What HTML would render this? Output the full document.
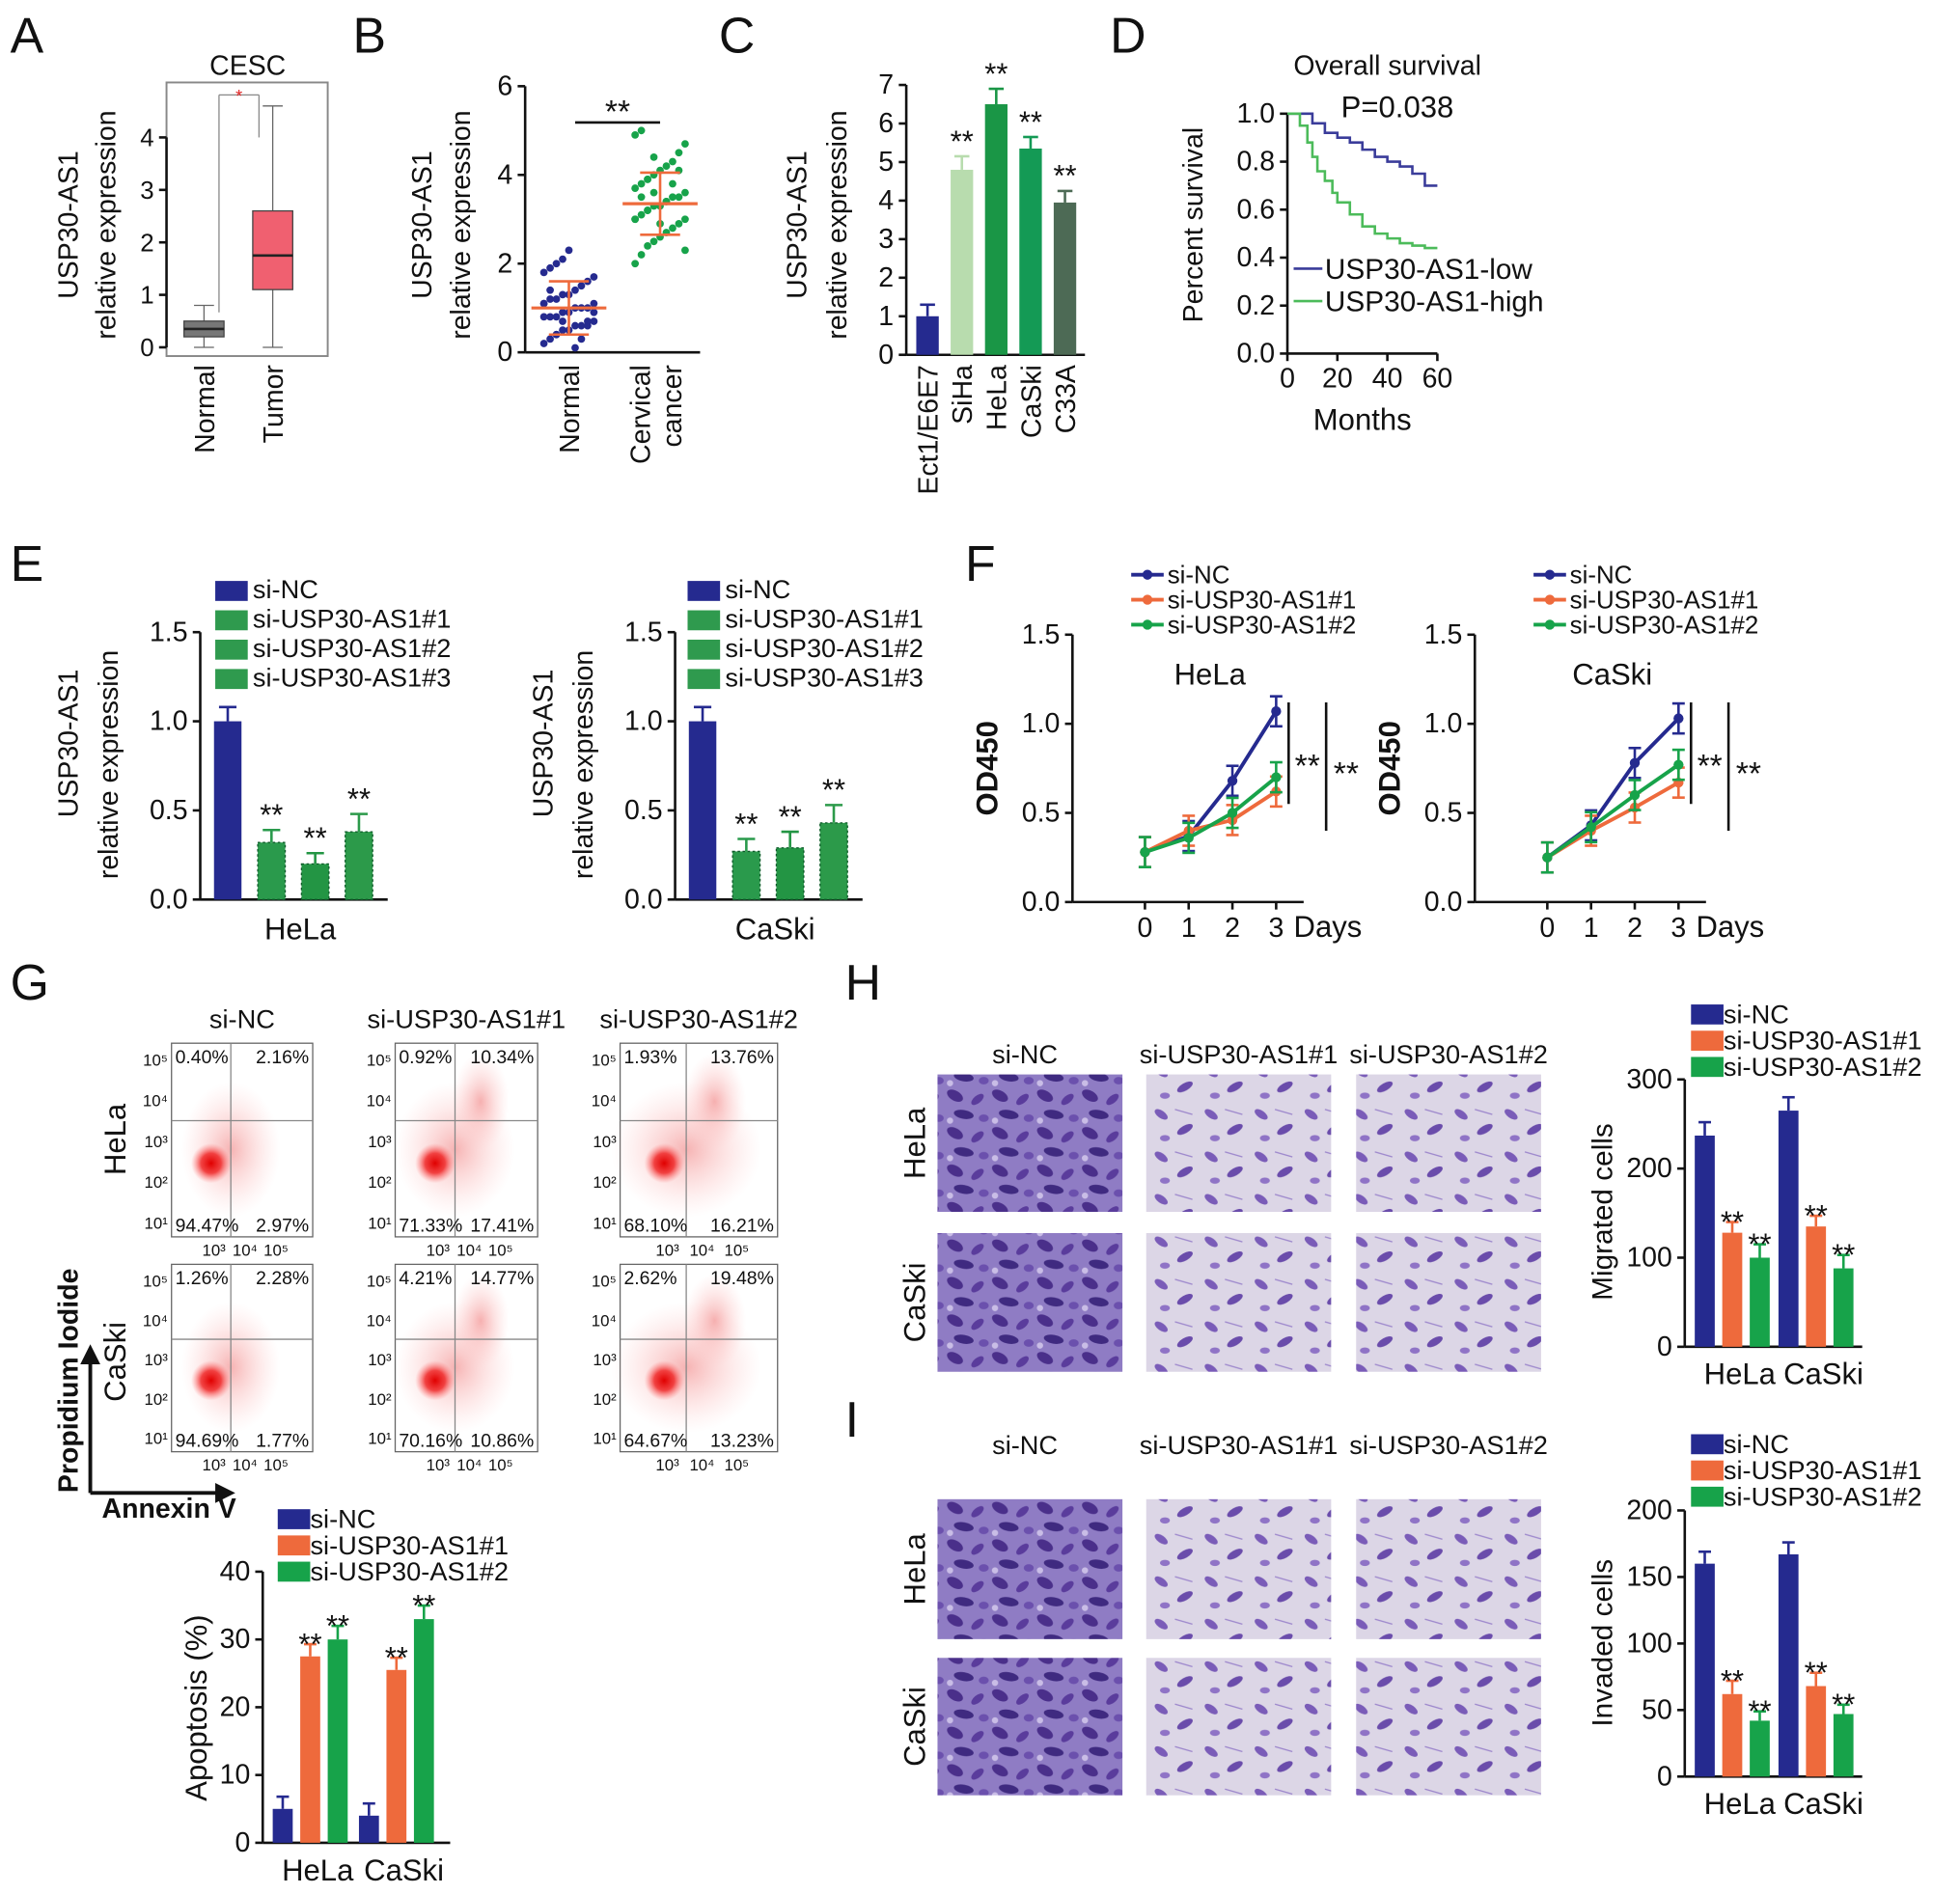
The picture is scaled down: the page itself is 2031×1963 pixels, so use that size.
<!DOCTYPE html>
<html><head><meta charset="utf-8"><style>
html,body{margin:0;padding:0;background:#fff}
svg{display:block;font-family:"Liberation Sans",Arial,sans-serif}
</style></head><body>
<svg id="fig" width="2031" height="1963" viewBox="0 0 1568 1516" xmlns="http://www.w3.org/2000/svg">
<defs>
<pattern id="cellsDense" width="36" height="30" patternUnits="userSpaceOnUse">
<rect width="36" height="30" fill="#8f7cc4"/>
<ellipse cx="8" cy="7" rx="7" ry="4" fill="#4a2f8a" transform="rotate(30 8 7)"/>
<ellipse cx="26" cy="10" rx="6" ry="3" fill="#5a3c9c" transform="rotate(-40 26 10)"/>
<ellipse cx="15" cy="22" rx="8" ry="3.5" fill="#3f2a80" transform="rotate(10 15 22)"/>
<ellipse cx="31" cy="25" rx="4" ry="3" fill="#6b50ad"/>
<circle cx="4" cy="27" r="2.5" fill="#c9bde6"/>
</pattern>
<pattern id="cellsSparse" width="40" height="34" patternUnits="userSpaceOnUse">
<rect width="40" height="34" fill="#dcd6e6"/>
<ellipse cx="9" cy="8" rx="6" ry="3" fill="#7a5cb8" transform="rotate(35 9 8)"/>
<ellipse cx="28" cy="20" rx="7" ry="3" fill="#6a4cab" transform="rotate(-30 28 20)"/>
<ellipse cx="12" cy="27" rx="4" ry="2.5" fill="#8f73c6"/>
<line x1="20" y1="4" x2="34" y2="8" stroke="#9c86cc" stroke-width="1"/>
</pattern>
<radialGradient id="blob"><stop offset="0" stop-color="#e00000"/><stop offset="0.5" stop-color="#f03030" stop-opacity="0.9"/><stop offset="1" stop-color="#ff8080" stop-opacity="0"/></radialGradient>
<radialGradient id="haze"><stop offset="0" stop-color="#f08080" stop-opacity="0.6"/><stop offset="1" stop-color="#ffc0c0" stop-opacity="0"/></radialGradient>
</defs>
</svg>
<script>
// ---------- DATA ----------
const tcgaCats=["Normal","Tumor"];
const tcgaQ1=[0.2,1.1], tcgaMed=[0.35,1.75], tcgaQ3=[0.5,2.6], tcgaMin=[0.0,0.0], tcgaMax=[0.8,4.6];
const tcgaTicks=[0,1,2,3,4];
const normalVals=[0.2,0.3,0.4,0.5,0.5,0.6,0.6,0.7,0.7,0.8,0.8,0.8,0.9,0.9,1.0,1.0,1.0,1.1,1.1,1.2,1.2,1.3,1.3,1.4,1.5,1.6,1.7,1.8,1.9,2.0,2.1,2.3,0.1,0.3,0.6,0.9,1.1,1.4,0.4,0.7];
const cancerVals=[2.0,2.2,2.4,2.5,2.6,2.7,2.8,2.9,3.0,3.0,3.1,3.2,3.3,3.3,3.4,3.5,3.5,3.6,3.7,3.8,3.9,4.0,4.1,4.2,4.3,4.5,4.7,4.9,5.0,3.2,3.6,2.9,3.4,3.8,4.1,2.3,3.0,3.5,3.9,4.4];
const bMean=[1.0,3.35], bSD=[0.6,0.7];
const bTicks=[0,2,4,6];
const cellLines=["Ect1/E6E7","SiHa","HeLa","CaSki","C33A"];
const cVals=[1.0,4.8,6.5,5.35,3.95], cErr=[0.3,0.35,0.4,0.3,0.3];
const cTicks=[0,1,2,3,4,5,6,7];
const survLowT=[0,10,15,20,25,30,35,40,45,50,55,60], survLowS=[1,0.96,0.92,0.9,0.88,0.85,0.82,0.8,0.78,0.75,0.7,0.7];
const survHighT=[0,5,8,10,12,15,18,20,25,30,35,40,45,50,55,60], survHighS=[1,0.95,0.88,0.82,0.76,0.72,0.67,0.63,0.58,0.53,0.5,0.48,0.46,0.45,0.44,0.44];
const dYTicks=[0,0.2,0.4,0.6,0.8,1.0], dXTicks=[0,20,40,60];
const siGroups4=["si-NC","si-USP30-AS1#1","si-USP30-AS1#2","si-USP30-AS1#3"];
const eHeLa=[1.0,0.32,0.2,0.38], eHeLaErr=[0.08,0.07,0.06,0.1];
const eCaSki=[1.0,0.27,0.29,0.43], eCaSkiErr=[0.08,0.07,0.09,0.1];
const eTicks=[0,0.5,1.0,1.5];
const days=[0,1,2,3];
const fHeLa=[[0.28,0.37,0.68,1.07],[0.28,0.4,0.46,0.62],[0.28,0.36,0.5,0.7]];
const fCaSki=[[0.25,0.43,0.78,1.03],[0.25,0.4,0.53,0.67],[0.25,0.42,0.6,0.77]];
const fTicks=[0,0.5,1.0,1.5];
const siGroups3=["si-NC","si-USP30-AS1#1","si-USP30-AS1#2"];
const flowHeLa=[["0.40%","2.16%","94.47%","2.97%"],["0.92%","10.34%","71.33%","17.41%"],["1.93%","13.76%","68.10%","16.21%"]];
const flowCaSki=[["1.26%","2.28%","94.69%","1.77%"],["4.21%","14.77%","70.16%","10.86%"],["2.62%","19.48%","64.67%","13.23%"]];
const cellsX=["HeLa","CaSki"];
const apopHeLa=[5,27.5,30], apopCaSki=[4,25.5,33], apopErr=[1.8,1.8,2];
const apopTicks=[0,10,20,30,40];
const migHeLa=[237,128,100], migCaSki=[265,135,88], migErr=[15,12,15];
const migTicks=[0,100,200,300];
const invHeLa=[160,62,42], invCaSki=[167,68,47], invErr=[9,10,7];
const invTicks=[0,50,100,150,200];

// ---------- HELPERS ----------
const NS="http://www.w3.org/2000/svg", svg=document.getElementById('fig');
function el(tag,attrs,parent){const e=document.createElementNS(NS,tag);for(const k in attrs)e.setAttribute(k,attrs[k]);(parent||svg).appendChild(e);return e;}
function txt(s,x,y,size,opts){opts=opts||{};const t=el('text',{x:x,y:y,'font-size':size,'text-anchor':opts.anchor||'middle',fill:opts.fill||'#111'});if(opts.rot)t.setAttribute('transform','rotate('+opts.rot+' '+x+' '+y+')');if(opts.bold)t.setAttribute('font-weight','bold');t.textContent=s;

return t;}
function line(x1,y1,x2,y2,c,w){const l=el('line',{x1:x1,y1:y1,x2:x2,y2:y2,stroke:c||'#111','stroke-width':w||2});

return l;}
function yAxis(x,y0,y1,v0,v1,ticks,size,fmt){const s=v=>y0-(v-v0)/(v1-v0)*(y0-y1);line(x,y0,x,s(ticks[ticks.length-1]),'#111',2);
ticks.forEach(t=>{line(x-6,s(t),x,s(t));txt(fmt?fmt(t):String(t),x-10,s(t)+7,size,{anchor:'end',name:'y-tick-label'});});return s;}
function errBar(x,yTop,yErr,c,w){line(x,yTop,x,yErr,c,2);line(x-w,yErr,x+w,yErr,c,2);}
function letter(s,x,y){txt(s,x,y,40,{anchor:'start',name:'panel-letter-'+s.toLowerCase()});}

const NAVY='#252a8f', ORANGE='#ee6a3c', GREEN='#17a34a';

// ---------- A ----------
letter('A',8,42);
txt('CESC',198,60,22,{name:'title-cesc'});
el('rect',{x:133,y:66,width:129,height:219,fill:'none',stroke:'#888','stroke-width':1.5});
const sA=yAxis(133,278,110,0,4,tcgaTicks,20);
txt('USP30-AS1',62,180,22,{rot:-90,name:'y-axis-title'});
txt('relative expression',92,180,22,{rot:-90,name:'y-axis-title'});
const ax=[163,218], acol=['#777','#f06070'];
tcgaCats.forEach((c,i)=>{const x=ax[i];
line(x,sA(tcgaMin[i]),x,sA(tcgaQ1[i]),'#666',1);line(x,sA(tcgaQ3[i]),x,sA(tcgaMax[i]),'#666',1);
line(x-8,sA(tcgaMax[i]),x+8,sA(tcgaMax[i]),'#666',1);line(x-8,sA(tcgaMin[i]),x+8,sA(tcgaMin[i]),'#666',1);
const r=el('rect',{x:x-16,y:sA(tcgaQ3[i]),width:32,height:sA(tcgaQ1[i])-sA(tcgaQ3[i]),fill:acol[i],stroke:'#444','stroke-width':1});


line(x-16,sA(tcgaMed[i]),x+16,sA(tcgaMed[i]),'#222',2);
txt(c,x+8,292,22,{anchor:'end',rot:-90,name:'x-tick-label'});});
line(175,76,207,76,'#888',1);line(175,76,175,250,'#888',1);line(207,76,207,110,'#888',1);
txt('*',191,82,14,{fill:'#e02020',name:'significance'});

// ---------- B ----------
letter('B',282,42);
const sB=yAxis(420,282,69,0,6,bTicks,22);
txt('USP30-AS1',345,180,22,{rot:-90,name:'y-axis-title'});
txt('relative expression',376,180,22,{rot:-90,name:'y-axis-title'});
line(420,282,560,282);
[[normalVals,455,NAVY],[cancerVals,528,GREEN]].forEach((g,gi)=>{g[0].forEach((v,i)=>{const c=el('circle',{cx:g[1]+((i%9)-4)*5,cy:sB(v),r:3,fill:g[2]});

});
const x=g[1];line(x-30,sB(bMean[gi]),x+30,sB(bMean[gi]),ORANGE,2.5);line(x,sB(bMean[gi]-bSD[gi]),x,sB(bMean[gi]+bSD[gi]),ORANGE,2);
line(x-16,sB(bMean[gi]-bSD[gi]),x+16,sB(bMean[gi]-bSD[gi]),ORANGE,2);line(x-16,sB(bMean[gi]+bSD[gi]),x+16,sB(bMean[gi]+bSD[gi]),ORANGE,2);});
line(460,98,528,98);txt('**',494,98,26,{name:'significance'});
txt('Normal',463,292,22,{anchor:'end',rot:-90,name:'x-tick-label'});
txt('Cervical',520,292,22,{anchor:'end',rot:-90,name:'x-tick-label'});
txt('cancer',545,292,22,{anchor:'end',rot:-90,name:'x-tick-label'});

// ---------- C ----------
letter('C',575,42);
const sC=yAxis(725,284,68,0,7,cTicks,22);
txt('USP30-AS1',645,180,22,{rot:-90,name:'y-axis-title'});
txt('relative expression',677,180,22,{rot:-90,name:'y-axis-title'});
line(725,284,868,284);
const cCols=[NAVY,'#b8dcae','#1a9646','#149a55','#4d6a55'];
cellLines.forEach((c,i)=>{const x=742+i*27.5;errBar(x,sC(cVals[i]),sC(cVals[i]+cErr[i]),cCols[i],6);
const r=el('rect',{x:x-9,y:sC(cVals[i]),width:18,height:284-sC(cVals[i]),fill:cCols[i]});


if(i>0)txt('**',x,sC(cVals[i]+cErr[i])-4,24,{name:'significance'});
txt(c,x+8,292,22,{anchor:'end',rot:-90,name:'x-tick-label'});});

// ---------- D ----------
letter('D',888,42);
txt('Overall survival',1110,60,22,{name:'chart-title'});
txt('P=0.038',1118,94,24,{name:'p-value'});
const sDy=yAxis(1030,283,91,0,1,dYTicks,22,v=>v.toFixed(1));
const sDx=v=>1030+v*2;
line(1030,283,1150,283);
dXTicks.forEach(t=>{line(sDx(t),283,sDx(t),289);txt(String(t),sDx(t),310,22,{name:'x-tick-label'});});
txt('Months',1090,344,24,{name:'x-axis-title'});
txt('Percent survival',962,180,22,{rot:-90,name:'y-axis-title'});
function stepPath(T,S){let d='M'+sDx(T[0])+' '+sDy(S[0]);for(let i=1;i<T.length;i++){d+=' H'+sDx(T[i])+' V'+sDy(S[i]);}return d;}
let p=el('path',{d:stepPath(survLowT,survLowS),fill:'none',stroke:'#3a3c9a','stroke-width':2});


p=el('path',{d:stepPath(survHighT,survHighS),fill:'none',stroke:'#4cbb5a','stroke-width':2});


line(1035,215,1058,215,'#3a3c9a',2);txt('USP30-AS1-low',1060,223,23,{anchor:'start',name:'legend-low'});
line(1035,241,1058,241,'#4cbb5a',2);txt('USP30-AS1-high',1060,249,23,{anchor:'start',name:'legend-high'});

// ---------- E ----------
letter('E',8,465);
function legend4(x,y){const fills=[NAVY,'#2f9a4e','#2f9a4e','#2f9a4e'];siGroups4.forEach((g,i)=>{const r=el('rect',{x:x,y:y+i*23.5-14,width:26,height:16,fill:fills[i]});


txt(g,x+30,y+i*23.5,21,{anchor:'start',name:'legend-entry'});});}
function eChart(ax0,vals,errs,cell){const s=yAxis(ax0,720,506,0,1.5,eTicks,22,v=>v.toFixed(1));line(ax0,720,ax0+150,720);
const cols=[NAVY,'#2a9a4c','#239544','#2c9a4a'];
vals.forEach((v,i)=>{const x=ax0+22+i*35;errBar(x,s(v),s(v+errs[i]),cols[i],7);
const r=el('rect',{x:x-11,y:s(v),width:22,height:720-s(v),fill:cols[i]});


if(i>0){el('rect',{x:x-11,y:s(v),width:22,height:720-s(v),fill:'none',stroke:'#0d5a28','stroke-width':1,'stroke-dasharray':'2 2'});txt('**',x,s(v+errs[i])-4,24,{name:'significance'});}});
txt(cell,ax0+80,752,24,{name:'x-axis-label'});}
legend4(172,479);eChart(160,eHeLa,eHeLaErr,'HeLa');
txt('USP30-AS1',62,595,22,{rot:-90,name:'y-axis-title'});txt('relative expression',94,612,22,{rot:-90,name:'y-axis-title'});
legend4(550,479);eChart(540,eCaSki,eCaSkiErr,'CaSki');
txt('USP30-AS1',442,595,22,{rot:-90,name:'y-axis-title'});txt('relative expression',474,612,22,{rot:-90,name:'y-axis-title'});

// ---------- F ----------
letter('F',772,465);
const lineCols=[NAVY,ORANGE,GREEN];
function fChart(ax0,data,cell){const s=yAxis(ax0,722,508,0,1.5,fTicks,22,v=>v.toFixed(1));line(ax0,722,ax0+185,722);
const sx=d=>ax0+58+d*35;
days.forEach(d=>{line(sx(d),722,sx(d),728);txt(String(d),sx(d),750,22,{name:'x-tick-label'});});
txt('Days',sx(3)+14,750,24,{anchor:'start',name:'x-axis-title'});
txt('OD450',ax0-60,615,24,{rot:-90,bold:true,name:'y-axis-title'});
data.forEach((ser,k)=>{const d=ser.map((v,i)=>(i?'L':'M')+sx(days[i])+' '+s(v)).join(' ');
const pl=el('path',{d:d,fill:'none',stroke:lineCols[k],'stroke-width':3});


ser.forEach((v,i)=>{errBar(sx(days[i]),s(v),s(v)-12,lineCols[k],5);errBar(sx(days[i]),s(v),s(v)+12,lineCols[k],5);el('circle',{cx:sx(days[i]),cy:s(v),r:4,fill:lineCols[k]});});});
line(sx(3)+10,s(1.12),sx(3)+10,s(0.55),'#111',2);line(sx(3)+40,s(1.12),sx(3)+40,s(0.4),'#111',2);
txt('**',sx(3)+25,s(0.8)+14,26,{name:'significance'});txt('**',sx(3)+56,s(0.8)+20,26,{name:'significance'});
txt(cell,ax0+110,s(1.22),24,{name:'cell-label'});
siGroups3.forEach((g,i)=>{const y=467+i*20;line(ax0+47,y-7,ax0+73,y-7,lineCols[i],3);el('circle',{cx:ax0+60,cy:y-7,r:4,fill:lineCols[i]});txt(g,ax0+76,y,20,{anchor:'start',name:'legend-entry'});});}
fChart(858,fHeLa,'HeLa');fChart(1180,fCaSki,'CaSki');

// ---------- G ----------
letter('G',8,800);
const fx=[137,316,496], fw=[113,114,126];
siGroups3.forEach((g,i)=>txt(g,fx[i]+fw[i]/2,823,21,{name:'column-header'}));
txt('HeLa',100,912,24,{rot:-90,name:'row-label'});txt('CaSki',100,1090,24,{rot:-90,name:'row-label'});
[[flowHeLa,835,155],[flowCaSki,1012,150]].forEach((row,ri)=>{row[0].forEach((q,i)=>{const x=fx[i],y=row[1],w=fw[i],h=row[2];
const b=el('rect',{x:x,y:y,width:w,height:h,fill:'#fff',stroke:'#666','stroke-width':1});


const qx=x+w*0.42,qy=y+h*0.4;
el('ellipse',{cx:x+w*0.42,cy:y+h*0.55,rx:w*0.35+i*8,ry:h*0.35,fill:'url(#haze)'});
if(i>0)el('ellipse',{cx:x+w*0.6,cy:y+h*0.3,rx:w*0.2,ry:h*0.25,fill:'url(#haze)'});
el('ellipse',{cx:x+w*0.28,cy:y+h*0.62,rx:16,ry:16,fill:'url(#blob)'});
line(x,qy,x+w,qy,'#888',1);line(qx,y,qx,y+h,'#888',1);
txt(q[0],x+3,y+16,15,{anchor:'start',name:'quadrant-value'});txt(q[1],x+w-3,y+16,15,{anchor:'end',name:'quadrant-value'});
txt(q[2],x+3,y+h-4,15,{anchor:'start',name:'quadrant-value'});txt(q[3],x+w-3,y+h-4,15,{anchor:'end',name:'quadrant-value'});
['10⁵','10⁴','10³','10²','10¹'].forEach((t,k)=>txt(t,x-3,y+18+k*(h-18)/4.2,13,{anchor:'end',name:'flow-y-tick'}));
['10³','10⁴','10⁵'].forEach((t,k)=>txt(t,x+w*0.3+k*w*0.22,y+h+15,13,{name:'flow-x-tick'}));});});
line(72,1195,72,1085,'#111',3);el('path',{d:'M64 1092 L72 1076 L80 1092 Z',fill:'#111'});
line(72,1195,180,1195,'#111',3);el('path',{d:'M172 1187 L188 1195 L172 1203 Z',fill:'#111'});
txt('Propidium Iodide',62,1105,22,{rot:-90,bold:true,name:'y-axis-title'});
txt('Annexin V',135,1215,22,{bold:true,name:'x-axis-title'});
function barGroup(ax0,y0,s,valsA,valsB,errs,gap,w,names){const cols=[NAVY,ORANGE,GREEN];
[valsA,valsB].forEach((vals,gi)=>{vals.forEach((v,i)=>{const x=ax0+gi*gap+i*(w+6)+w/2+8;errBar(x,s(v),s(v+errs[i]),cols[i],5);
const r=el('rect',{x:x-w/2,y:s(v),width:w,height:y0-s(v),fill:cols[i]});


if(i>0)txt('**',x,s(v+errs[i])+8,24,{name:'significance'});});
txt(names[gi],ax0+gi*gap+w*1.5+20,y0+30,24,{name:'x-tick-label'});});}
function legend3(x,y){const c=[NAVY,ORANGE,GREEN];siGroups3.forEach((g,i)=>{const r=el('rect',{x:x,y:y+i*21-15,width:26,height:16,fill:c[i]});


txt(g,x+26,y+i*21,21,{anchor:'start',name:'legend-entry'});});}
legend3(222,1223);
const sG=yAxis(210,1475,1258,0,40,apopTicks,22);line(210,1475,360,1475);
txt('Apoptosis (%)',165,1367,24,{rot:-90,name:'y-axis-title'});
barGroup(210,1475,sG,apopHeLa,apopCaSki,apopErr,69,16,cellsX);

// ---------- H / I images ----------
letter('H',676,800);letter('I',676,1150);
function imgs(hy,rows){const ix=[750,917,1085];
siGroups3.forEach((g,i)=>txt(g,ix[i]+74+(i===0?-4:0),hy,21,{name:'column-header'}));
rows.forEach((r,ri)=>{txt(cellsX[ri],740,r[0]+(r[1]-r[0])/2,24,{rot:-90,name:'row-label'});
ix.forEach((x,i)=>{const im=el('rect',{x:x,y:r[0],width:148,height:r[1]-r[0],fill:i===0?'url(#cellsDense)':'url(#cellsSparse)'});

});});}
imgs(851,[[860,970],[987,1098]]);imgs(1164,[[1200,1312],[1327,1437]]);
legend3(1353,819);
const sH=yAxis(1348,1078,864,0,300,migTicks,22);line(1348,1078,1490,1078);
txt('Migrated cells',1290,970,23,{rot:-90,name:'y-axis-title'});
barGroup(1348,1078,sH,migHeLa,migCaSki,migErr,67,16,cellsX);
legend3(1353,1163);
const sI=yAxis(1348,1422,1209,0,200,invTicks,22);line(1348,1422,1490,1422);
txt('Invaded cells',1290,1315,23,{rot:-90,name:'y-axis-title'});
barGroup(1348,1422,sI,invHeLa,invCaSki,invErr,67,16,cellsX);
</script>
</body></html>
